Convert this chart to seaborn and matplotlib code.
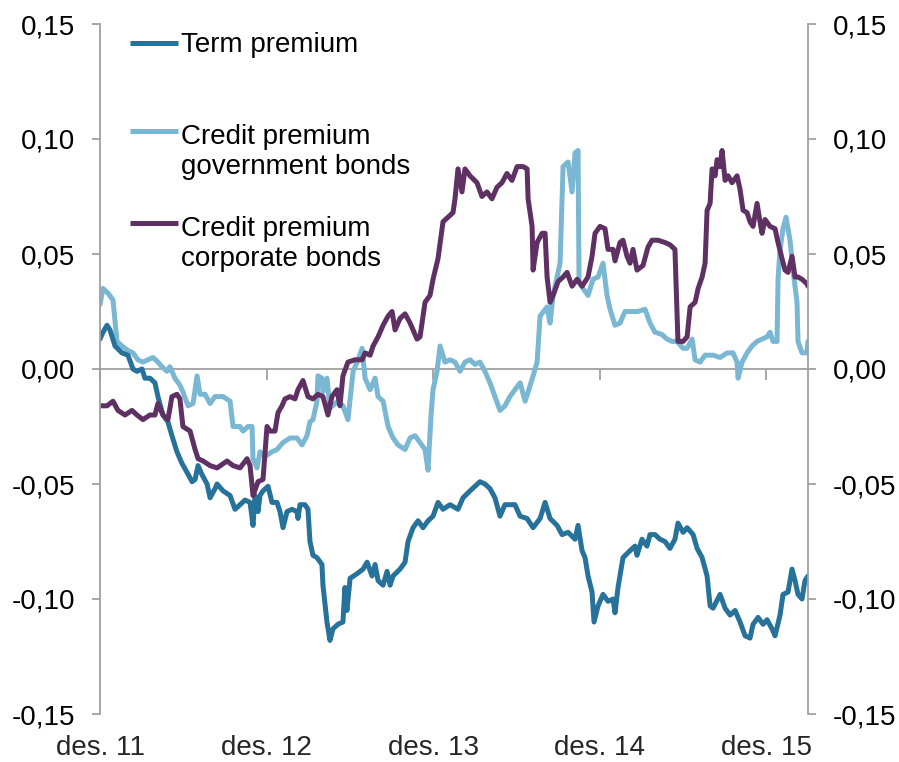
import numpy as np
import pandas as pd
import matplotlib
matplotlib.use("Agg")
import matplotlib.pyplot as plt
import matplotlib.dates as mdates
from matplotlib.ticker import FuncFormatter
import seaborn as sns

# time is given in years after 1 Dec 2011, values in percentage points
START = pd.Timestamp("2011-12-01")

term_t = [0.000, 0.018, 0.042, 0.060, 0.090, 0.132, 0.168, 0.198, 0.222, 0.252,
          0.270, 0.300, 0.330, 0.348, 0.378, 0.408, 0.432, 0.462, 0.492, 0.523,
          0.553, 0.571, 0.589, 0.613, 0.643, 0.661, 0.691, 0.703, 0.739, 0.781,
          0.811, 0.841, 0.871, 0.901, 0.919, 0.931, 0.949, 0.961, 0.979, 1.009,
          1.033, 1.063, 1.081, 1.099, 1.123, 1.153, 1.183, 1.189, 1.201, 1.231,
          1.249, 1.261, 1.279, 1.303, 1.333, 1.339, 1.363, 1.381, 1.399, 1.429,
          1.459, 1.471, 1.483, 1.502, 1.544, 1.580, 1.604, 1.634, 1.652, 1.670,
          1.700, 1.724, 1.742, 1.760, 1.802, 1.832, 1.850, 1.880, 1.910, 1.940,
          1.970, 2.000, 2.030, 2.060, 2.102, 2.150, 2.180, 2.222, 2.252, 2.282,
          2.312, 2.342, 2.372, 2.402, 2.432, 2.462, 2.492, 2.523, 2.565, 2.601,
          2.643, 2.673, 2.703, 2.745, 2.775, 2.811, 2.853, 2.871, 2.895, 2.913,
          2.931, 2.955, 2.967, 2.991, 3.021, 3.051, 3.081, 3.093, 3.111, 3.141,
          3.183, 3.213, 3.225, 3.255, 3.285, 3.303, 3.333, 3.363, 3.393, 3.423,
          3.453, 3.471, 3.502, 3.526, 3.562, 3.586, 3.616, 3.646, 3.664, 3.682,
          3.724, 3.754, 3.784, 3.814, 3.844, 3.874, 3.904, 3.922, 3.952, 3.982,
          4.006, 4.036, 4.054, 4.084, 4.102, 4.132, 4.156, 4.174, 4.192, 4.216,
          4.234, 4.252]
term_v = [0.013, 0.016, 0.019, 0.017, 0.010, 0.007, 0.006, 0.000, -0.001, 0.000,
          -0.004, -0.004, -0.006, -0.012, -0.020, -0.023, -0.029, -0.036, -0.041, -0.045,
          -0.049, -0.048, -0.042, -0.046, -0.050, -0.056, -0.052, -0.050, -0.053, -0.055,
          -0.061, -0.059, -0.057, -0.058, -0.068, -0.055, -0.062, -0.055, -0.053, -0.051,
          -0.058, -0.058, -0.062, -0.069, -0.062, -0.061, -0.062, -0.065, -0.059, -0.059,
          -0.061, -0.075, -0.081, -0.082, -0.085, -0.094, -0.110, -0.118, -0.113, -0.111,
          -0.110, -0.095, -0.105, -0.091, -0.089, -0.087, -0.084, -0.090, -0.085, -0.092,
          -0.094, -0.088, -0.094, -0.090, -0.087, -0.084, -0.075, -0.069, -0.066, -0.069,
          -0.066, -0.064, -0.058, -0.061, -0.059, -0.061, -0.056, -0.053, -0.051, -0.049,
          -0.050, -0.052, -0.056, -0.064, -0.059, -0.059, -0.059, -0.064, -0.065, -0.069,
          -0.065, -0.058, -0.065, -0.068, -0.072, -0.071, -0.074, -0.068, -0.079, -0.082,
          -0.090, -0.097, -0.110, -0.103, -0.098, -0.101, -0.100, -0.106, -0.095, -0.082,
          -0.079, -0.077, -0.081, -0.074, -0.077, -0.072, -0.072, -0.074, -0.075, -0.078,
          -0.074, -0.067, -0.071, -0.069, -0.072, -0.078, -0.082, -0.090, -0.103, -0.104,
          -0.098, -0.104, -0.107, -0.105, -0.110, -0.116, -0.117, -0.111, -0.108, -0.111,
          -0.109, -0.113, -0.116, -0.107, -0.098, -0.097, -0.087, -0.092, -0.098, -0.100,
          -0.092, -0.090]

gov_t = [0.000, 0.018, 0.048, 0.078, 0.102, 0.132, 0.168, 0.198, 0.228, 0.258,
         0.288, 0.318, 0.348, 0.372, 0.402, 0.420, 0.450, 0.480, 0.498, 0.529,
         0.559, 0.583, 0.601, 0.631, 0.661, 0.691, 0.739, 0.781, 0.799, 0.841,
         0.859, 0.889, 0.913, 0.919, 0.943, 0.961, 0.991, 1.033, 1.063, 1.099,
         1.141, 1.183, 1.213, 1.243, 1.261, 1.279, 1.303, 1.309, 1.333, 1.339,
         1.363, 1.381, 1.429, 1.459, 1.489, 1.520, 1.550, 1.574, 1.592, 1.622,
         1.652, 1.670, 1.700, 1.730, 1.760, 1.790, 1.832, 1.862, 1.892, 1.922,
         1.952, 1.970, 1.988, 2.000, 2.024, 2.042, 2.072, 2.102, 2.132, 2.162,
         2.192, 2.222, 2.252, 2.282, 2.312, 2.342, 2.372, 2.402, 2.432, 2.462,
         2.492, 2.523, 2.553, 2.571, 2.601, 2.625, 2.643, 2.685, 2.703, 2.721,
         2.745, 2.763, 2.781, 2.811, 2.835, 2.853, 2.871, 2.877, 2.901, 2.931,
         2.961, 2.991, 3.021, 3.045, 3.063, 3.093, 3.123, 3.153, 3.195, 3.231,
         3.273, 3.303, 3.333, 3.375, 3.405, 3.435, 3.465, 3.502, 3.526, 3.556,
         3.574, 3.604, 3.634, 3.682, 3.724, 3.766, 3.802, 3.826, 3.832, 3.856,
         3.886, 3.916, 3.946, 3.976, 4.006, 4.024, 4.042, 4.066, 4.072, 4.084,
         4.102, 4.120, 4.144, 4.162, 4.186, 4.192, 4.216, 4.246, 4.252]
gov_v = [0.028, 0.035, 0.033, 0.030, 0.012, 0.010, 0.008, 0.007, 0.004, 0.003,
         0.004, 0.005, 0.003, 0.001, -0.001, 0.001, -0.004, -0.007, -0.010, -0.016,
         -0.015, -0.003, -0.011, -0.011, -0.015, -0.012, -0.012, -0.014, -0.025, -0.025,
         -0.027, -0.025, -0.025, -0.039, -0.043, -0.036, -0.038, -0.036, -0.035, -0.032,
         -0.030, -0.030, -0.033, -0.029, -0.023, -0.022, -0.014, -0.003, -0.004, -0.010,
         -0.004, -0.017, -0.014, -0.016, -0.022, -0.001, 0.004, 0.009, -0.004, -0.009,
         -0.004, -0.012, -0.014, -0.025, -0.030, -0.033, -0.035, -0.030, -0.029, -0.032,
         -0.035, -0.044, -0.020, -0.009, -0.001, 0.010, 0.003, 0.004, 0.003, -0.001,
         0.003, 0.004, 0.002, 0.003, -0.001, -0.006, -0.012, -0.018, -0.016, -0.012,
         -0.009, -0.006, -0.014, -0.010, -0.003, 0.003, 0.023, 0.027, 0.020, 0.032,
         0.040, 0.046, 0.088, 0.090, 0.077, 0.094, 0.095, 0.038, 0.035, 0.032,
         0.039, 0.040, 0.046, 0.032, 0.026, 0.019, 0.020, 0.025, 0.025, 0.025,
         0.026, 0.020, 0.016, 0.015, 0.013, 0.012, 0.012, 0.009, 0.009, 0.013,
         0.004, 0.003, 0.006, 0.006, 0.005, 0.007, 0.007, 0.003, -0.004, 0.003,
         0.007, 0.010, 0.012, 0.013, 0.014, 0.016, 0.012, 0.012, 0.039, 0.052,
         0.061, 0.066, 0.056, 0.043, 0.029, 0.012, 0.007, 0.007, 0.012]

corp_t = [0.000, 0.042, 0.078, 0.108, 0.150, 0.192, 0.222, 0.258, 0.300, 0.330,
          0.348, 0.378, 0.408, 0.432, 0.462, 0.480, 0.498, 0.541, 0.571, 0.589,
          0.619, 0.661, 0.703, 0.763, 0.799, 0.841, 0.883, 0.901, 0.919, 0.949,
          0.979, 1.003, 1.021, 1.051, 1.069, 1.093, 1.111, 1.141, 1.171, 1.189,
          1.219, 1.249, 1.279, 1.309, 1.339, 1.369, 1.393, 1.423, 1.441, 1.459,
          1.489, 1.532, 1.574, 1.592, 1.622, 1.640, 1.670, 1.700, 1.730, 1.754,
          1.772, 1.802, 1.832, 1.862, 1.904, 1.922, 1.952, 1.982, 2.000, 2.030,
          2.060, 2.090, 2.120, 2.132, 2.150, 2.174, 2.192, 2.222, 2.264, 2.294,
          2.324, 2.354, 2.384, 2.414, 2.444, 2.474, 2.505, 2.541, 2.565, 2.571,
          2.595, 2.601, 2.625, 2.655, 2.673, 2.685, 2.703, 2.721, 2.751, 2.781,
          2.805, 2.835, 2.865, 2.895, 2.931, 2.955, 2.973, 3.003, 3.033, 3.051,
          3.081, 3.093, 3.123, 3.141, 3.165, 3.183, 3.201, 3.225, 3.261, 3.291,
          3.315, 3.351, 3.393, 3.423, 3.453, 3.471, 3.502, 3.526, 3.544, 3.574,
          3.592, 3.616, 3.634, 3.646, 3.664, 3.676, 3.694, 3.706, 3.724, 3.736,
          3.754, 3.772, 3.796, 3.826, 3.844, 3.862, 3.886, 3.904, 3.922, 3.946,
          3.964, 3.976, 3.994, 4.024, 4.054, 4.072, 4.096, 4.114, 4.132, 4.156,
          4.174, 4.192, 4.216, 4.246, 4.252]
corp_v = [-0.016, -0.016, -0.014, -0.018, -0.020, -0.018, -0.020, -0.022, -0.020, -0.020,
          -0.015, -0.020, -0.022, -0.012, -0.011, -0.013, -0.025, -0.027, -0.035, -0.039,
          -0.040, -0.042, -0.043, -0.040, -0.042, -0.043, -0.039, -0.042, -0.055, -0.049,
          -0.048, -0.025, -0.027, -0.027, -0.019, -0.016, -0.013, -0.012, -0.013, -0.009,
          -0.005, -0.012, -0.013, -0.011, -0.012, -0.020, -0.012, -0.009, -0.016, -0.003,
          0.003, 0.004, 0.004, 0.007, 0.006, 0.010, 0.014, 0.019, 0.023, 0.025,
          0.017, 0.022, 0.024, 0.020, 0.013, 0.014, 0.029, 0.032, 0.039, 0.048,
          0.064, 0.066, 0.068, 0.074, 0.087, 0.077, 0.087, 0.084, 0.081, 0.075,
          0.077, 0.074, 0.079, 0.081, 0.085, 0.082, 0.088, 0.088, 0.087, 0.074,
          0.062, 0.043, 0.055, 0.059, 0.059, 0.040, 0.029, 0.032, 0.038, 0.040,
          0.042, 0.036, 0.039, 0.036, 0.040, 0.049, 0.059, 0.062, 0.061, 0.052,
          0.052, 0.047, 0.055, 0.056, 0.049, 0.046, 0.052, 0.043, 0.045, 0.053,
          0.056, 0.056, 0.055, 0.054, 0.052, 0.012, 0.012, 0.014, 0.027, 0.029,
          0.035, 0.040, 0.046, 0.069, 0.072, 0.087, 0.084, 0.091, 0.088, 0.095,
          0.082, 0.084, 0.081, 0.084, 0.078, 0.069, 0.068, 0.064, 0.062, 0.072,
          0.064, 0.059, 0.065, 0.062, 0.061, 0.055, 0.048, 0.043, 0.042, 0.049,
          0.040, 0.040, 0.039, 0.037, 0.036]

labels = ["Term premium", "Credit premium\ngovernment bonds", "Credit premium\ncorporate bonds"]
colors = ["#27729a", "#7ab7d3", "#5f3063"]
tick_dates = ["2011-12-01", "2012-12-01", "2013-12-01", "2014-12-01", "2015-12-01"]
tick_labels = ["des. 11", "des. 12", "des. 13", "des. 14", "des. 15"]
GRAY = "#a0a0a0"
LW = 3.6


def to_dates(years):
    return START + pd.to_timedelta(np.asarray(years) * 365.25, unit="D")


frames = []
for name, t, v in zip(labels, [term_t, gov_t, corp_t], [term_v, gov_v, corp_v]):
    assert len(t) == len(v), name
    frames.append(pd.DataFrame({"date": to_dates(t), "value": v, "series": name}))
df = pd.concat(frames, ignore_index=True)

sns.set_style("white")
plt.rcParams["font.family"] = ["Liberation Sans", "DejaVu Sans"]

fig = plt.figure(figsize=(8.99, 7.62), dpi=100)
ax = fig.add_axes([100 / 899, 48 / 762, 708 / 899, 690 / 762])

palette = dict(zip(labels, colors))
sns.lineplot(data=df, x="date", y="value", hue="series",
             hue_order=[labels[1], labels[0], labels[2]], palette=palette,
             linewidth=LW, estimator=None, legend=False, ax=ax)

ax.set_xlim(df["date"].min(), df["date"].max())
ax.set_ylim(-0.15, 0.15)
ax.set_xlabel("")
ax.set_ylabel("")

# y axes on both sides
ax.set_yticks(np.round(np.arange(-0.15, 0.151, 0.05), 2))
ax.yaxis.set_major_formatter(FuncFormatter(
    lambda v, p: f"{v:.2f}".replace(".", ",").replace("-0,00", "0,00")))
ax.tick_params(axis="y", direction="out", length=6, width=1.3, color=GRAY,
               labelsize=20, pad=12, left=True, right=True,
               labelleft=True, labelright=True, labelcolor="black")
for side in ["top", "bottom"]:
    ax.spines[side].set_visible(False)
for side in ["left", "right"]:
    ax.spines[side].set_color(GRAY)
    ax.spines[side].set_linewidth(1.3)

# date labels at the bottom, tick marks on the zero line
tick_pos = pd.to_datetime(tick_dates)
ax.set_xticks(tick_pos)
ax.set_xticklabels(tick_labels)
ax.tick_params(axis="x", length=0, pad=15, labelsize=20)

zero = ax.secondary_xaxis(0.5)
zero.set_xticks(mdates.date2num(tick_pos))
zero.tick_params(axis="x", direction="in", length=8, width=1.3, color=GRAY,
                 labeltop=False, labelbottom=False)
for sp in zero.spines.values():
    sp.set_color(GRAY)
    sp.set_linewidth(1.3)

# legend drawn by hand: handle level with the first text line
legend_rows = [
    (0, 0.9725, [(labels[0], 0.9594)]),
    (1, 0.8449, [("Credit premium", 0.8261), ("government bonds", 0.7826)]),
    (2, 0.7116, [("Credit premium", 0.6928), ("corporate bonds", 0.6493)]),
]
for i, hy, lines in legend_rows:
    ax.plot([0.0424, 0.1102], [hy, hy], transform=ax.transAxes, color=colors[i],
            lw=LW, solid_capstyle="butt", clip_on=False)
    for txt, ty in lines:
        ax.text(0.1144, ty, txt, transform=ax.transAxes, fontsize=20,
                va="baseline", ha="left", color="black")

fig.savefig("out.png", dpi=100)
